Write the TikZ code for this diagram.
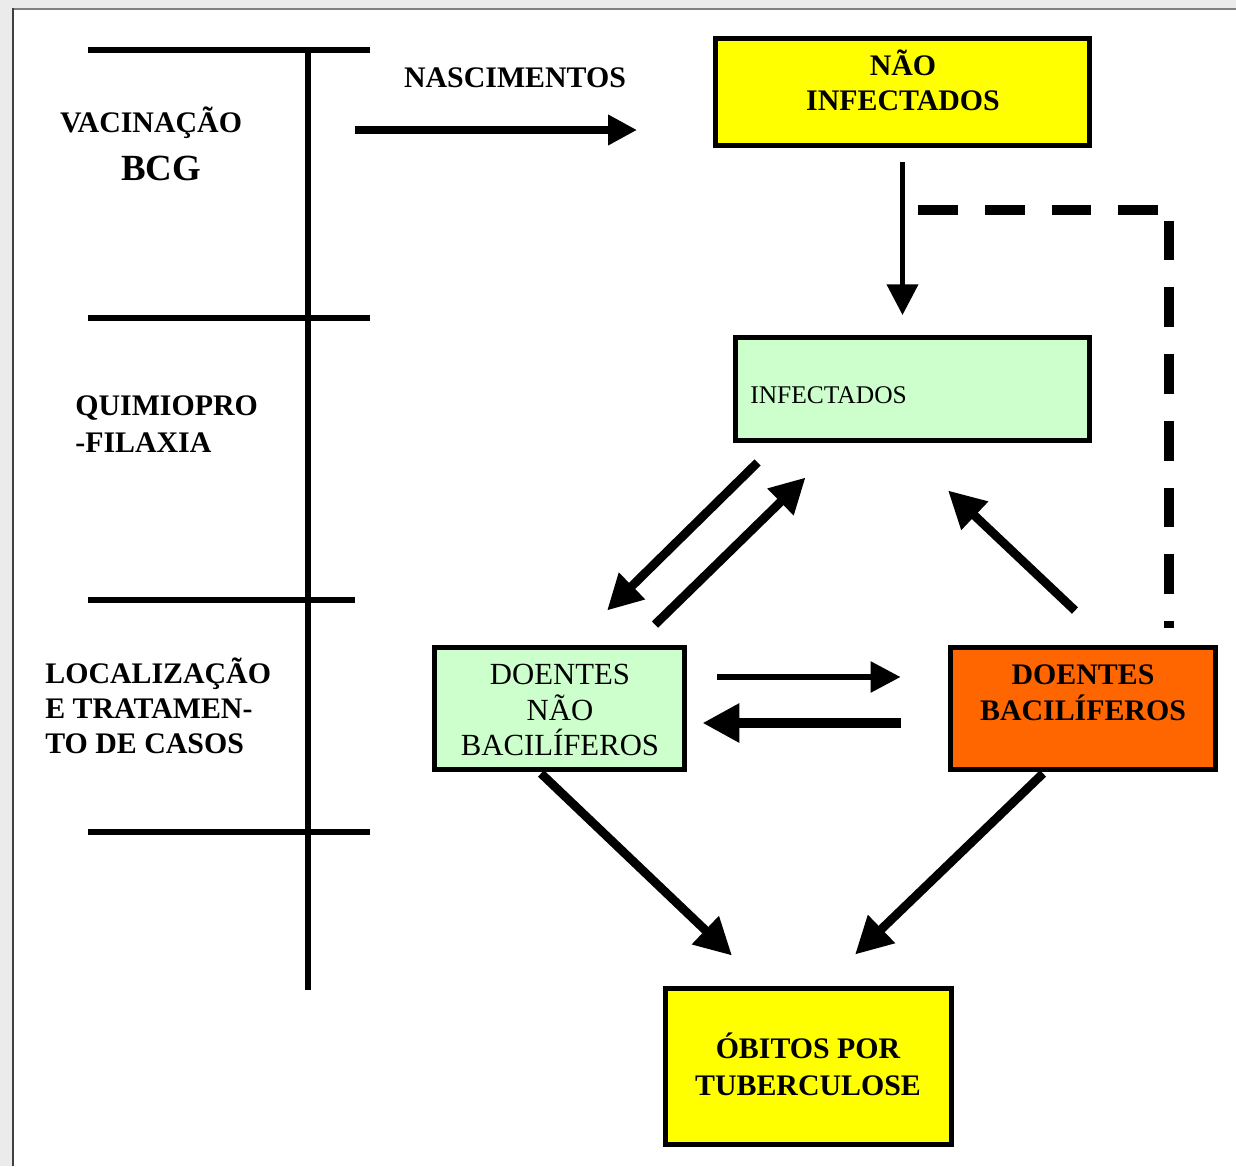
\documentclass[tikz,border=0pt]{standalone}
\usepackage{fontspec}
\setmainfont{Liberation Serif}
\usetikzlibrary{arrows.meta,calc}

\definecolor{amarelo}{RGB}{255,255,0}
\definecolor{verde}{RGB}{204,255,204}
\definecolor{laranja}{RGB}{255,102,0}

\begin{document}
\begin{tikzpicture}[x=0.02cm, y=-0.02cm,
    caixa/.style={draw=black, line width=2.8pt, inner sep=0pt},
    rotulo/.style={inner sep=0pt, align=center, font=\fontsize{17}{20}\selectfont\bfseries},
    regua/.style={line width=3pt},
    seta/.style 2 args={line width=#1, -{Triangle[length=#2, width=#2]}},
    tracejado/.style={line width=5.7pt, dash pattern=on 22.7pt off 15.3pt}]

    % Frame and background
    \useasboundingbox (0,0) rectangle (1236,1166);
    \fill[black!8] (0,0) rectangle (1236,1166);
    \fill[white] (12,8) rectangle (1236,1166);
    \draw[black!50, line width=1.2pt] (12,9) -- (1236,9);
    \draw[black!75, line width=1.7pt] (13,8) -- (13,1166);

    % Time line with the actions
    \draw[regua] (308,50) -- (308,990);
    \foreach \y/\xf in {50/370, 318/370, 600/355, 832/370} {
        \draw[regua] (88,\y) -- (\xf,\y);
    }
    \node[rotulo] (t-vac) at (151,123) {VACINAÇÃO};
    \node[rotulo, font=\fontsize{21}{24}\selectfont\bfseries] (t-bcg) at (161,168) {BCG};
    \node[rotulo, align=left, anchor=west, font=\fontsize{17}{21}\selectfont\bfseries] (t-quim) at (75,424) {QUIMIOPRO\\-FILAXIA};
    \node[rotulo, align=left, anchor=west] (t-loc) at (45,706) {LOCALIZAÇÃO\\E TRATAMEN-\\TO DE CASOS};

    % Boxes
    \node[caixa, fill=amarelo, minimum width=7.48cm, minimum height=2.14cm] (naoinf) at (902.5,92) {};
    \node[caixa, fill=verde, minimum width=7.08cm, minimum height=2.06cm] (inf) at (912.5,389) {};
    \node[caixa, fill=verde, minimum width=5cm, minimum height=2.44cm] (dnb) at (559.5,708.5) {};
    \node[caixa, fill=laranja, minimum width=5.3cm, minimum height=2.44cm] (db) at (1083,708.5) {};
    \node[caixa, fill=amarelo, minimum width=5.72cm, minimum height=3.12cm] (obitos) at (808.5,1066.5) {};

    % Texts of the boxes
    \node[rotulo] (t-naoinf) at (903,80) {NÃO\\INFECTADOS};
    \node[rotulo, anchor=west, font=\fontsize{14.5}{17}\selectfont] (t-inf) at (750,395) {INFECTADOS};
    \node[rotulo, font=\fontsize{17.5}{20}\selectfont] (t-dnb) at (560,710) {DOENTES\\NÃO\\BACILÍFEROS};
    \node[rotulo, font=\fontsize{17}{20.4}\selectfont\bfseries] (t-db) at (1083,693) {DOENTES\\BACILÍFEROS};
    \node[rotulo, font=\fontsize{17}{21}\selectfont\bfseries] (t-obitos) at (808,1064) {ÓBITOS POR\\TUBERCULOSE};
    \node[rotulo] (t-nasc) at (515,78) {NASCIMENTOS};

    % Births
    \coordinate (nasc-ini) at (355,130);
    \coordinate (nasc-fim) at (637,130);
    \draw[seta={4pt}{16.5pt}] (nasc-ini) -- (nasc-fim);

    % Flows between the boxes
    \draw[seta={2.8pt}{17.5pt}] ($(naoinf.south)+(0,14)$) -- ($(naoinf.south |- inf.north)+(0,-20)$);
    \draw[seta={5pt}{20pt}] ($(inf.south west)+(24.5,19.5)$) -- ($(dnb.north)+(47.5,-34.5)$);
    \draw[seta={5pt}{20pt}] ($(dnb.north)+(95.5,-20.5)$) -- ($(inf.south west)+(72.5,34.5)$);
    \draw[seta={5pt}{21pt}] ($(db.north)+(-8,-34.5)$) -- ($(inf.south)+(35.5,47.5)$);
    \draw[seta={3.3pt}{17pt}] ($(dnb.east)+(30.5,-31.5)$) -- ($(db.west)+(-47.5,-31.5)$);
    \draw[seta={5.7pt}{21pt}] ($(db.west)+(-47.5,14.5)$) -- ($(dnb.east)+(15.5,14.5)$);
    \draw[seta={5pt}{21pt}] ($(dnb.south)+(-18.5,1.5)$) -- ($(obitos.north)+(-76.5,-30.5)$);
    \draw[seta={5pt}{21pt}] ($(db.south)+(-40,1.5)$) -- ($(obitos.north)+(46.5,-31.5)$);

    % Dashed return from the bacilliferous
    \draw[tracejado] ($(naoinf.south)+(15.5,62.5)$) -- ++(242,0);
    \draw[tracejado] ($(db.north)+(86,-424.5)$) -- ($(db.north)+(86,-17.5)$);

\end{tikzpicture}
\end{document}
